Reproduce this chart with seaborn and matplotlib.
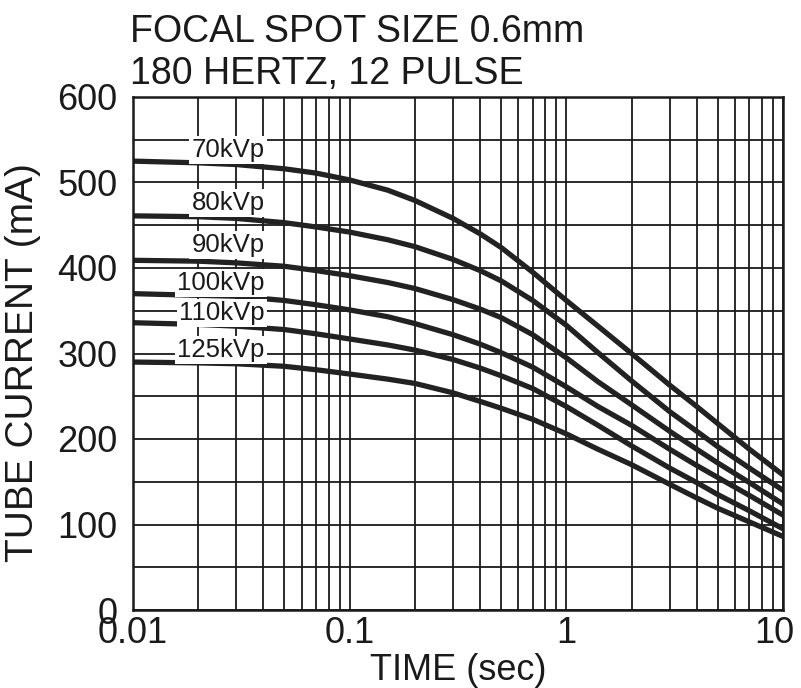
import numpy as np
import pandas as pd
import matplotlib
matplotlib.use("Agg")
import matplotlib.pyplot as plt
import matplotlib.ticker as mticker
import matplotlib.transforms as mtransforms
import seaborn as sns

# values
time_s = [0.01, 0.02, 0.03, 0.05, 0.07, 0.1, 0.15, 0.2, 0.3, 0.4, 0.5, 0.7, 1.0, 1.4, 2, 3, 4, 5, 7, 10]
ma_70 = [525, 523, 521, 516, 511, 503, 491, 479, 458, 440, 424, 395, 362, 332, 300, 263, 238, 218, 188, 158]
ma_80 = [461, 460, 458, 453, 448, 442, 433, 425, 410, 397, 385, 362, 333, 301, 268, 232, 209, 191, 166, 140]
ma_90 = [409, 408, 406, 402, 397, 391, 383, 376, 363, 352, 342, 322, 295, 267, 240, 209, 188, 172, 149, 124]
ma_100 = [370, 368, 367, 362, 357, 351, 343, 335, 322, 311, 301, 284, 261, 238, 216, 188, 169, 155, 134, 111]
ma_110 = [336, 334, 332, 328, 323, 317, 310, 304, 293, 283, 274, 259, 238, 216, 192, 166, 149, 135, 116, 95]
ma_125 = [290, 289, 288, 285, 281, 276, 270, 265, 254, 244, 236, 223, 206, 188, 170, 147, 131, 119, 103, 86]

kvp_labels = ["70kVp", "80kVp", "90kVp", "100kVp", "110kVp", "125kVp"]
label_y = [530, 468, 419, 374, 339, 296]
label_x = 0.0405

sns.set_style("white")
plt.rcParams["font.family"] = ["Liberation Sans", "DejaVu Sans"]

rows = []
for name, vals in zip(kvp_labels, [ma_70, ma_80, ma_90, ma_100, ma_110, ma_125]):
    for t, v in zip(time_s, vals):
        rows.append({"time": t, "ma": v, "kvp": name})
df = pd.DataFrame(rows)

fig = plt.figure(figsize=(8.01, 6.88), dpi=100)
ax = fig.add_axes([133 / 801, 78 / 688, 650 / 801, 513 / 688])

sns.lineplot(data=df, x="time", y="ma", hue="kvp", palette=["#222222"] * 6,
             linewidth=3.8, legend=False, ax=ax, sort=False)

ax.set_xscale("log")
ax.set_xlim(0.01, 10)
ax.set_ylim(0, 600)
ax.xaxis.set_major_locator(mticker.FixedLocator([0.01, 0.1, 1, 10]))
ax.xaxis.set_major_formatter(mticker.FixedFormatter(["0.01", "0.1", "1", "10"]))
ax.xaxis.set_minor_locator(mticker.LogLocator(base=10, subs=np.arange(2, 10)))
ax.xaxis.set_minor_formatter(mticker.NullFormatter())
ax.yaxis.set_major_locator(mticker.MultipleLocator(100))
ax.yaxis.set_minor_locator(mticker.MultipleLocator(50))

ax.grid(which="both", color="#1a1a1a", linewidth=1.3)
ax.set_axisbelow(True)
for s in ax.spines.values():
    s.set_color("#1a1a1a")
    s.set_linewidth(1.8)

ax.tick_params(which="both", length=0, labelsize=26, colors="#1a1a1a")
ax.tick_params(axis="y", pad=11)
ax.tick_params(axis="x", pad=4)

# nudge the "10" label left so it stays inside the figure like the scan
last = ax.xaxis.get_major_ticks()[-1].label1
last.set_transform(last.get_transform() +
                   mtransforms.ScaledTranslation(-6 / 72, 0, fig.dpi_scale_trans))

for lab, yv in zip(kvp_labels, label_y):
    ax.text(label_x, yv, lab, ha="right", va="baseline", fontsize=18.5, color="#1a1a1a",
            bbox=dict(facecolor="white", edgecolor="none", pad=1.5), zorder=3)

ax.set_xlabel("TIME (sec)", fontsize=26, color="#1a1a1a", labelpad=2)
ax.set_ylabel("TUBE CURRENT (mA)", fontsize=28, color="#1a1a1a")
ax.yaxis.set_label_coords(-0.142, 0.483)

fig.text(130 / 801, 1 - 42 / 688, "FOCAL SPOT SIZE 0.6mm", fontsize=27,
         ha="left", va="baseline", color="#1a1a1a")
fig.text(130 / 801, 1 - 84 / 688, "180 HERTZ, 12 PULSE", fontsize=27,
         ha="left", va="baseline", color="#1a1a1a")

fig.savefig("out.png", dpi=100, facecolor="white")
